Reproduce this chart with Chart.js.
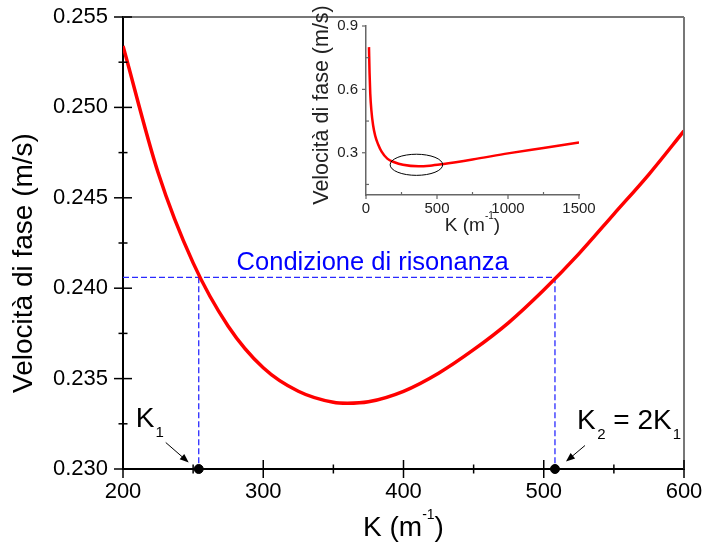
<!DOCTYPE html>
<html>
<head>
<meta charset="utf-8">
<script src="https://cdn.jsdelivr.net/npm/chart.js@4.4.1/dist/chart.umd.min.js"></script>
<style>
  body { margin: 0; background: #fff; }
  #wrap { position: relative; width: 703px; height: 542px; }
  #main { position: absolute; left: 0; top: 0; }
  #inset { position: absolute; left: 290px; top: 0; }
</style>
</head>
<body>
<div id="wrap">
  <canvas id="main" width="703" height="542"></canvas>
  <canvas id="inset" width="310" height="240"></canvas>
</div>
<script>
'use strict';

// ******** DATA **************
// main plot: phase velocity around the minimum
let kMain = [200, 225, 250, 275, 300, 325, 350, 360, 375, 400, 425, 450, 475, 500, 525, 550, 575, 600];
let vMain = [0.2534, 0.2464, 0.2414, 0.2379, 0.2356, 0.2343, 0.23369, 0.23364, 0.23372, 0.2343, 0.2353, 0.2366, 0.2381, 0.2399, 0.2419, 0.2441, 0.2463, 0.2487];

// resonance condition
let kResonance = [254, 508];
let vResonance = 0.2406;

let xTicksMain = [200, 300, 400, 500, 600];
let yTicksMain = [0.230, 0.235, 0.240, 0.245, 0.250, 0.255];

// inset: full range
let kInset = [21, 25, 30, 38, 50, 65, 85, 110, 150, 200, 260, 370, 450, 535, 750, 1000, 1250, 1500];
let vInset = [0.80, 0.68, 0.58, 0.50, 0.43, 0.38, 0.34, 0.305, 0.272, 0.255, 0.243, 0.236, 0.239, 0.246, 0.268, 0.297, 0.323, 0.349];

let xTicksInset = [0, 500, 1000, 1500];
let yTicksInset = [0.3, 0.6, 0.9];

// circled region in the inset (centre and half widths, data units)
let ellipseInset = { k: 355, v: 0.243, rk: 185, rv: 0.05 };

const FONT = '"Liberation Sans", Arial, Helvetica, sans-serif';

// *********** HELPERS ***************
function toPoints(xs, ys) {
  return xs.map((x, i) => ({ x: x, y: ys[i] }));
}

// draw a run of text pieces with their own size and vertical shift
function drawRich(ctx, x, y, parts, color) {
  ctx.fillStyle = color;
  ctx.textBaseline = 'alphabetic';
  ctx.textAlign = 'left';
  for (let p of parts) {
    ctx.font = p.size + 'px ' + FONT;
    ctx.fillText(p.t, x, y + (p.dy || 0));
    x += ctx.measureText(p.t).width + (p.gap || 0);
  }
}

function richWidth(ctx, parts) {
  let w = 0;
  for (let p of parts) {
    ctx.font = p.size + 'px ' + FONT;
    w += ctx.measureText(p.t).width + (p.gap || 0);
  }
  return w;
}

function arrow(ctx, x1, y1, x2, y2) {
  let ang = Math.atan2(y2 - y1, x2 - x1);
  let len = 9, half = 3.5;
  ctx.strokeStyle = '#000';
  ctx.fillStyle = '#000';
  ctx.lineWidth = 1;
  ctx.beginPath();
  ctx.moveTo(x1, y1);
  ctx.lineTo(x2 - Math.cos(ang) * len * 0.8, y2 - Math.sin(ang) * len * 0.8);
  ctx.stroke();
  ctx.beginPath();
  ctx.moveTo(x2, y2);
  ctx.lineTo(x2 - Math.cos(ang) * len - Math.sin(ang) * half, y2 - Math.sin(ang) * len + Math.cos(ang) * half);
  ctx.lineTo(x2 - Math.cos(ang) * len + Math.sin(ang) * half, y2 - Math.sin(ang) * len - Math.cos(ang) * half);
  ctx.closePath();
  ctx.fill();
}

function line(ctx, x1, y1, x2, y2) {
  ctx.beginPath();
  ctx.moveTo(x1, y1);
  ctx.lineTo(x2, y2);
  ctx.stroke();
}

// stop the scales from pushing the plot area in for their edge labels
function noEdgePadding(s) {
  s.paddingLeft = 0;
  s.paddingRight = 0;
  s.paddingTop = 0;
  s.paddingBottom = 0;
}

// *********** MAIN CHART PLUGIN ***************
let mainDecor = {
  id: 'mainDecor',
  afterDraw(chart) {
    let { ctx, chartArea: a, scales: { x, y } } = chart;
    ctx.save();

    // grey frame on top and right
    ctx.strokeStyle = '#777';
    ctx.lineWidth = 2;
    line(ctx, a.left, a.top, a.right, a.top);
    line(ctx, a.right, a.top, a.right, a.bottom);

    // ticks crossing the axes
    ctx.strokeStyle = '#000';
    ctx.lineWidth = 1.5;
    for (let i = 0; i < yTicksMain.length; i++) {
      let py = y.getPixelForValue(yTicksMain[i]);
      line(ctx, a.left - 9, py, a.left + 9, py);
      if (i < yTicksMain.length - 1) {
        let pm = y.getPixelForValue((yTicksMain[i] + yTicksMain[i + 1]) / 2);
        line(ctx, a.left - 4.5, pm, a.left + 4.5, pm);
      }
    }
    for (let i = 0; i < xTicksMain.length; i++) {
      let px = x.getPixelForValue(xTicksMain[i]);
      line(ctx, px, a.bottom - 9, px, a.bottom + 9);
      if (i < xTicksMain.length - 1) {
        let pm = x.getPixelForValue((xTicksMain[i] + xTicksMain[i + 1]) / 2);
        line(ctx, pm, a.bottom - 4.5, pm, a.bottom + 4.5);
      }
    }

    // axis titles
    ctx.save();
    ctx.translate(24, 263);
    ctx.rotate(-Math.PI / 2);
    ctx.font = '28px ' + FONT;
    ctx.fillStyle = '#000';
    ctx.textAlign = 'center';
    ctx.textBaseline = 'middle';
    ctx.fillText('Velocità di fase (m/s)', 0, 0);
    ctx.restore();

    let xTitle = [{ t: 'K (m', size: 28 }, { t: '-1', size: 14, dy: -17 }, { t: ')', size: 28 }];
    let cx = (a.left + a.right) / 2;
    drawRich(ctx, cx - richWidth(ctx, xTitle) / 2, 536, xTitle, '#000');

    // resonance label
    let lx = x.getPixelForValue(281);
    let ly = y.getPixelForValue(vResonance) - 7;
    ctx.font = '25.5px ' + FONT;
    ctx.fillStyle = '#0000ff';
    ctx.textAlign = 'left';
    ctx.textBaseline = 'alphabetic';
    ctx.fillText('Condizione di risonanza', lx, ly);

    // K1 and K2 labels with arrows, placed next to their points
    let p1x = x.getPixelForValue(kResonance[0]);
    let p2x = x.getPixelForValue(kResonance[1]);
    let py = y.getPixelForValue(yTicksMain[0]) - 2.5;

    drawRich(ctx, p1x - 63, py - 40, [{ t: 'K', size: 28, gap: 1 }, { t: '1', size: 15, dy: 10 }], '#000');
    arrow(ctx, p1x - 33, py - 24, p1x - 10, py - 4);

    drawRich(ctx, p2x + 22, py - 38, [
      { t: 'K', size: 28, gap: 1.5 },
      { t: '2', size: 15, dy: 10 },
      { t: ' = 2K', size: 28, gap: 1 },
      { t: '1', size: 15, dy: 10 }
    ], '#000');
    arrow(ctx, p2x + 30, py - 21, p2x + 11, py - 5);

    ctx.restore();
  }
};

let mainCanvas = document.getElementById('main');

new Chart(mainCanvas, {
  type: 'line',
  data: {
    datasets: [
      {
        data: toPoints(kMain, vMain),
        borderColor: '#ff0000',
        borderWidth: 3.5,
        pointRadius: 0,
        cubicInterpolationMode: 'monotone',
        fill: false
      },
      {
        data: kResonance.map(k => ({ x: k, y: yTicksMain[0] })),
        showLine: false,
        pointRadius: 4.5,
        pointBackgroundColor: '#000',
        pointBorderColor: '#000',
        clip: false
      },
      {
        data: [{ x: xTicksMain[0], y: vResonance }, { x: kResonance[1], y: vResonance }],
        borderColor: '#2a2aff',
        borderWidth: 1.3,
        borderDash: [6, 3],
        pointRadius: 0
      },
      {
        data: [{ x: kResonance[0], y: vResonance }, { x: kResonance[0], y: yTicksMain[0] }],
        borderColor: '#2a2aff',
        borderWidth: 1.3,
        borderDash: [6, 3],
        pointRadius: 0
      },
      {
        data: [{ x: kResonance[1], y: vResonance }, { x: kResonance[1], y: yTicksMain[0] }],
        borderColor: '#2a2aff',
        borderWidth: 1.3,
        borderDash: [6, 3],
        pointRadius: 0
      }
    ]
  },
  options: {
    responsive: false,
    animation: false,
    devicePixelRatio: 1,
    layout: { padding: { left: 0, right: 19, top: 17, bottom: 0 } },
    plugins: { legend: { display: false }, tooltip: { enabled: false } },
    scales: {
      x: {
        type: 'linear',
        min: 200,
        max: 600,
        afterBuildTicks: s => { s.ticks = xTicksMain.map(v => ({ value: v })); },
        afterFit: s => { s.height = 73; noEdgePadding(s); },
        grid: { display: false, drawTicks: false },
        border: { display: true, color: '#000', width: 2 },
        ticks: { color: '#000', font: { family: FONT, size: 22 }, padding: 10, maxRotation: 0 }
      },
      y: {
        type: 'linear',
        min: 0.230,
        max: 0.255,
        afterBuildTicks: s => { s.ticks = yTicksMain.map(v => ({ value: v })); },
        afterFit: s => { s.width = 123; noEdgePadding(s); },
        grid: { display: false, drawTicks: false },
        border: { display: true, color: '#000', width: 2 },
        ticks: {
          color: '#000',
          font: { family: FONT, size: 22 },
          padding: 15,
          callback: v => Number(v).toFixed(3)
        }
      }
    }
  },
  plugins: [mainDecor]
});

// *********** INSET CHART ***************
let insetDecor = {
  id: 'insetDecor',
  afterDraw(chart) {
    let { ctx, chartArea: a, scales: { x, y } } = chart;
    ctx.save();

    // ticks: majors outside, minors inside
    ctx.strokeStyle = '#666';
    ctx.lineWidth = 1.2;
    for (let i = 0; i < yTicksInset.length; i++) {
      let py = y.getPixelForValue(yTicksInset[i]);
      line(ctx, a.left - 4, py, a.left, py);
      let pm = y.getPixelForValue(yTicksInset[i] - 0.15);
      line(ctx, a.left, pm, a.left + 3, pm);
    }
    for (let i = 0; i < xTicksInset.length; i++) {
      let px = x.getPixelForValue(xTicksInset[i]);
      line(ctx, px, a.bottom, px, a.bottom + 4);
      if (i < xTicksInset.length - 1) {
        let pm = x.getPixelForValue(xTicksInset[i] + 250);
        line(ctx, pm, a.bottom - 3, pm, a.bottom);
      }
    }

    // circled minimum
    let ex = x.getPixelForValue(ellipseInset.k);
    let ey = y.getPixelForValue(ellipseInset.v);
    let rx = x.getPixelForValue(ellipseInset.k + ellipseInset.rk) - ex;
    let ry = ey - y.getPixelForValue(ellipseInset.v + ellipseInset.rv);
    ctx.strokeStyle = '#000';
    ctx.lineWidth = 1;
    ctx.beginPath();
    ctx.ellipse(ex, ey, rx, ry, 0, 0, Math.PI * 2);
    ctx.stroke();

    // axis titles
    ctx.save();
    ctx.translate(32, 105);
    ctx.rotate(-Math.PI / 2);
    ctx.font = '21.5px ' + FONT;
    ctx.fillStyle = '#222';
    ctx.textAlign = 'center';
    ctx.textBaseline = 'middle';
    ctx.fillText('Velocità di fase (m/s)', 0, 0);
    ctx.restore();

    let xTitle = [{ t: 'K (m', size: 19 }, { t: '-1', size: 10, dy: -12 }, { t: ')', size: 19 }];
    let cx = (a.left + a.right) / 2;
    drawRich(ctx, cx - richWidth(ctx, xTitle) / 2, 231, xTitle, '#222');

    ctx.restore();
  }
};

let insetCanvas = document.getElementById('inset');

new Chart(insetCanvas, {
  type: 'line',
  data: {
    datasets: [{
      data: toPoints(kInset, vInset),
      borderColor: '#ff0000',
      borderWidth: 2.5,
      pointRadius: 0,
      cubicInterpolationMode: 'monotone',
      fill: false
    }]
  },
  options: {
    responsive: false,
    animation: false,
    devicePixelRatio: 1,
    layout: { padding: { left: 0, right: 21, top: 26, bottom: 0 } },
    plugins: { legend: { display: false }, tooltip: { enabled: false } },
    scales: {
      x: {
        type: 'linear',
        min: 0,
        max: 1500,
        afterBuildTicks: s => { s.ticks = xTicksInset.map(v => ({ value: v })); },
        afterFit: s => { s.height = 45; noEdgePadding(s); },
        grid: { display: false, drawTicks: false },
        border: { display: true, color: '#666', width: 1.5 },
        ticks: {
          color: '#222',
          font: { family: FONT, size: 15 },
          padding: 5,
          maxRotation: 0,
          callback: v => String(v)
        }
      },
      y: {
        type: 'linear',
        min: 0.1,
        max: 0.9,
        afterBuildTicks: s => { s.ticks = yTicksInset.map(v => ({ value: v })); },
        afterFit: s => { s.width = 76; noEdgePadding(s); },
        grid: { display: false, drawTicks: false },
        border: { display: true, color: '#666', width: 1.5 },
        ticks: {
          color: '#222',
          font: { family: FONT, size: 15 },
          padding: 8,
          callback: v => Number(v).toFixed(1)
        }
      }
    }
  },
  plugins: [insetDecor]
});
</script>
</body>
</html>
